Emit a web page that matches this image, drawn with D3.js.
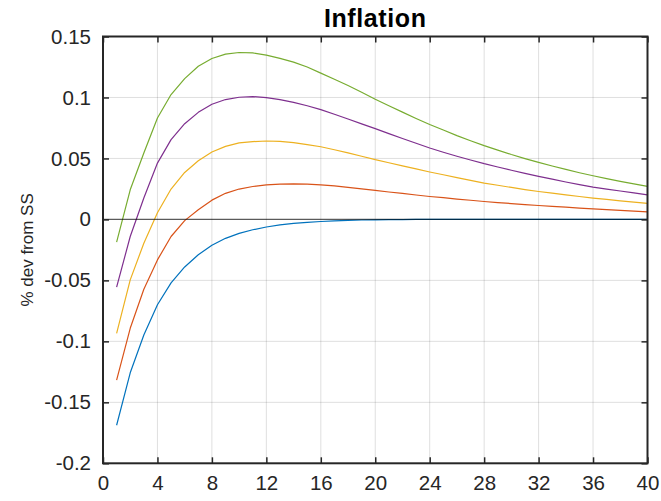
<!DOCTYPE html>
<html>
<head>
<meta charset="utf-8">
<script src="https://cdn.jsdelivr.net/npm/d3@7"></script>
<style>
  html, body { margin: 0; padding: 0; background: #fff; }
  svg { display: block; font-family: "Liberation Sans", Arial, Helvetica, sans-serif; }
</style>
</head>
<body>
<svg id="chart" width="661" height="501"></svg>
<script>
// ---- data ----
const periods = d3.range(1, 41);
const xTicks = [0, 4, 8, 12, 16, 20, 24, 28, 32, 36, 40];
const yTicks = [-0.2, -0.15, -0.1, -0.05, 0, 0.05, 0.1, 0.15];
const yTickLabels = ["-0.2", "-0.15", "-0.1", "-0.05", "0", "0.05", "0.1", "0.15"];

const seriesBlue = [-0.1688, -0.1258, -0.0948, -0.0700, -0.0520, -0.0390, -0.0290, -0.0212, -0.0155, -0.0115,
  -0.0085, -0.0062, -0.0045, -0.0033, -0.0024, -0.0017, -0.0012, -0.0008, -0.0005, -0.0003,
  -0.0002, -0.0001, 0, 0, 0, 0, 0, 0, 0, 0, 0, 0, 0, 0, 0, 0, 0, 0, 0, 0];
const seriesRed = [-0.1318, -0.0893, -0.0573, -0.0332, -0.0140, -0.0010, 0.0079, 0.0158, 0.0214, 0.0249,
  0.0270, 0.0283, 0.0290, 0.0292, 0.0290, 0.0284, 0.0275, 0.0263, 0.0251, 0.0238,
  0.0225, 0.0213, 0.0200, 0.0188, 0.0178, 0.0167, 0.0157, 0.0147, 0.0138, 0.0130,
  0.0122, 0.0114, 0.0107, 0.0100, 0.0093, 0.0087, 0.0080, 0.0074, 0.0068, 0.0062];
const seriesYellow = [-0.0934, -0.0496, -0.0195, 0.0055, 0.0249, 0.0385, 0.0481, 0.0553, 0.0599, 0.0627,
  0.0638, 0.0643, 0.0640, 0.0630, 0.0614, 0.0596, 0.0571, 0.0545, 0.0518, 0.0490,
  0.0465, 0.0439, 0.0414, 0.0389, 0.0366, 0.0343, 0.0320, 0.0298, 0.0280, 0.0262,
  0.0245, 0.0229, 0.0215, 0.0201, 0.0188, 0.0175, 0.0164, 0.0152, 0.0141, 0.0131];
const seriesPurple = [-0.0556, -0.0140, 0.0175, 0.0462, 0.0654, 0.0785, 0.0878, 0.0944, 0.0983, 0.1002,
  0.1007, 0.0999, 0.0983, 0.0960, 0.0932, 0.0900, 0.0862, 0.0823, 0.0784, 0.0744,
  0.0704, 0.0664, 0.0625, 0.0586, 0.0551, 0.0518, 0.0487, 0.0457, 0.0430, 0.0403,
  0.0378, 0.0353, 0.0330, 0.0307, 0.0286, 0.0265, 0.0249, 0.0233, 0.0217, 0.0202];
const seriesGreen = [-0.0187, 0.0243, 0.0545, 0.0832, 0.1024, 0.1155, 0.1256, 0.1320, 0.1355, 0.1369,
  0.1365, 0.1347, 0.1320, 0.1290, 0.1250, 0.1200, 0.1150, 0.1098, 0.1043, 0.0985,
  0.0932, 0.0880, 0.0828, 0.0778, 0.0733, 0.0687, 0.0645, 0.0605, 0.0568, 0.0532,
  0.0499, 0.0468, 0.0438, 0.0410, 0.0383, 0.0358, 0.0335, 0.0312, 0.0291, 0.0271];
const zeroLine = [0, 0];

const seriesList = [
  { values: seriesBlue,   color: "#0072BD" },
  { values: seriesRed,    color: "#D95319" },
  { values: seriesYellow, color: "#EDB120" },
  { values: seriesPurple, color: "#7E2F8E" },
  { values: seriesGreen,  color: "#77AC30" }
];

// ---- layout ----
const L = 103, R = 647.5, T = 36.5, B = 463.3;
const axisColor = "#262626";
const svg = d3.select("#chart");

const x = d3.scaleLinear().domain([0, 40]).range([L, R]);
const y = d3.scaleLinear().domain([-0.2, 0.15]).range([B, T]);

// grid
const grid = svg.append("g");
grid.selectAll("line.gx").data(xTicks.slice(1, -1)).enter().append("line")
  .attr("x1", d => x(d)).attr("x2", d => x(d)).attr("y1", T).attr("y2", B)
  .attr("stroke", axisColor).attr("stroke-opacity", 0.15).attr("stroke-width", 1);
grid.selectAll("line.gy").data(yTicks.slice(1, -1)).enter().append("line")
  .attr("y1", d => y(d)).attr("y2", d => y(d)).attr("x1", L).attr("x2", R)
  .attr("stroke", axisColor).attr("stroke-opacity", 0.15).attr("stroke-width", 1);

// series
const line = d3.line().x((d, i) => x(periods[i])).y(d => y(d));
svg.append("g").selectAll("path").data(seriesList).enter().append("path")
  .attr("d", d => line(d.values))
  .attr("fill", "none").attr("stroke", d => d.color).attr("stroke-width", 1.2)
  .attr("stroke-linejoin", "round");

// zero line
svg.append("line")
  .attr("x1", x(0)).attr("x2", x(40)).attr("y1", y(zeroLine[0])).attr("y2", y(zeroLine[1]))
  .attr("stroke", "#000").attr("stroke-opacity", 0.6).attr("stroke-width", 1.3);

// axes (ticks inside, all four sides)
const tickLen = 6;
const axB = d3.axisBottom(x).tickValues(xTicks).tickSize(-tickLen).tickPadding(12).tickFormat(d3.format("d"));
const axT = d3.axisTop(x).tickValues(xTicks).tickSize(-tickLen).tickFormat("");
const axLft = d3.axisLeft(y).tickValues(yTicks).tickSize(-tickLen).tickPadding(12)
  .tickFormat((d, i) => yTickLabels[i]);
const axRt = d3.axisRight(y).tickValues(yTicks).tickSize(-tickLen).tickFormat("");

function styleAxis(g) {
  g.select(".domain").remove();
  g.selectAll(".tick line").attr("stroke", axisColor).attr("stroke-width", 1.5);
  g.selectAll(".tick text").attr("fill", axisColor)
    .style("font-size", "20.5px").style("font-family", "'Liberation Sans', Arial, sans-serif");
}
svg.append("g").attr("transform", `translate(0,${B})`).call(axB).call(styleAxis);
svg.append("g").attr("transform", `translate(0,${T})`).call(axT).call(styleAxis);
svg.append("g").attr("transform", `translate(${L},0)`).call(axLft).call(styleAxis);
svg.append("g").attr("transform", `translate(${R},0)`).call(axRt).call(styleAxis);

// frame
svg.append("rect").attr("x", L).attr("y", T).attr("width", R - L).attr("height", B - T)
  .attr("fill", "none").attr("stroke", axisColor).attr("stroke-width", 2);

// title
svg.append("text").attr("x", (L + R) / 2).attr("y", 26.5).attr("text-anchor", "middle")
  .attr("fill", "#000").style("font-size", "25px").style("font-weight", "bold")
  .style("letter-spacing", "0.6px")
  .text("Inflation");

// y label
svg.append("text")
  .attr("transform", `translate(33,${(T + B) / 2}) rotate(-90)`)
  .attr("text-anchor", "middle").attr("fill", axisColor)
  .style("font-size", "17px")
  .text("% dev from SS");
</script>
</body>
</html>
